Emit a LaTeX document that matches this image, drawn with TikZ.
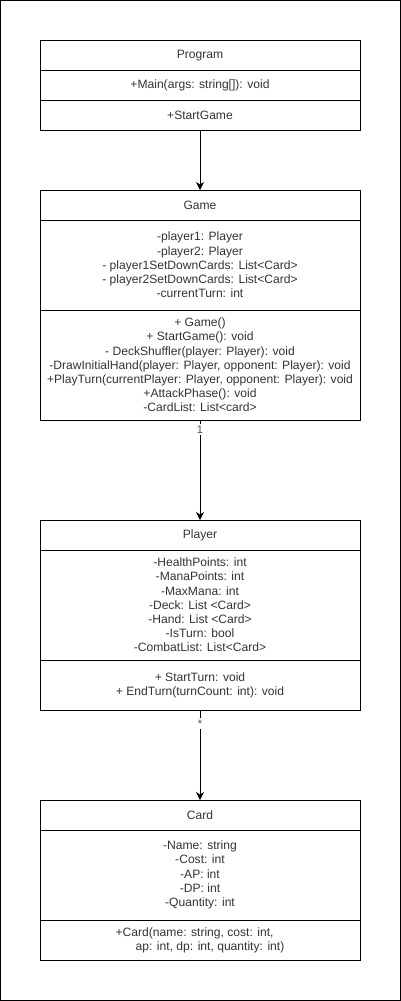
\documentclass[tikz,border=0pt]{standalone}
\usepackage{fontspec}
\setmainfont{Liberation Sans}
\usetikzlibrary{arrows.meta}
\begin{document}
\begin{tikzpicture}[x=1pt,y=-1pt,
  comp/.style={draw=black, line width=1pt, minimum width=320pt, inner sep=0pt, outer sep=0pt,
    align=center, font=\fontsize{12.1}{14.2}\selectfont, text=black!80},
  arr/.style={draw=black, line width=1pt, -{Stealth[length=8pt,width=8pt,inset=2.5pt]}},
  mult/.style={fill=white, inner sep=1.5pt, font=\fontsize{11}{13}\selectfont, text=black!70}
]
\useasboundingbox (0,0) rectangle (401,1001);
\draw[line width=1pt] (0.5,0.5) rectangle (400,1000);

% Program
\node[comp, minimum height=30pt] (progT) at (200,55.5) {Program};
\node[comp, minimum height=30pt, anchor=north] (progA) at (progT.south) {+Main(args: string[]): void};
\node[comp, minimum height=30pt, anchor=north] (progM) at (progA.south) {+StartGame};

% Game
\node[comp, minimum height=30pt] (gameT) at (200,205) {Game};
\node[comp, minimum height=90pt, anchor=north] (gameA) at (gameT.south) {-player1: Player\\-player2: Player\\- player1SetDownCards: List<Card>\\- player2SetDownCards: List<Card>\\-currentTurn: int};
\node[comp, minimum height=110pt, anchor=north] (gameM) at (gameA.south) {+ Game()\\+ StartGame(): void\\- DeckShuffler(player: Player): void\\-DrawInitialHand(player: Player, opponent: Player): void\\+PlayTurn(currentPlayer: Player, opponent: Player): void\\+AttackPhase(): void\\-CardList: List<card>};

% Player
\node[comp, minimum height=30pt] (playT) at (200,535) {Player};
\node[comp, minimum height=110pt, anchor=north] (playA) at (playT.south) {-HealthPoints: int\\-ManaPoints: int\\-MaxMana: int\\-Deck: List <Card>\\-Hand: List <Card>\\-IsTurn: bool\\-CombatList: List<Card>};
\node[comp, minimum height=50pt, anchor=north] (playM) at (playA.south) {+ StartTurn: void\\+ EndTurn(turnCount: int): void};

% Card
\node[comp, minimum height=30pt] (cardT) at (200,815) {Card};
\node[comp, minimum height=90pt, anchor=north] (cardA) at (cardT.south) {-Name: string\\-Cost: int\\-AP: int\\-DP: int\\-Quantity: int};
\node[comp, minimum height=40pt, anchor=north, align=left] (cardM) at (cardA.south) {+Card(name: string, cost: int,\\\hspace*{20pt}ap: int, dp: int, quantity: int)};

% Connectors
\draw[arr] (progM.south) -- (gameT.north);
\draw[arr] (gameM.south) -- node[mult, pos=0.095] {1} (playT.north);
\draw[arr] (playM.south) -- node[mult, pos=0.15] {*} (cardT.north);
\end{tikzpicture}
\end{document}
